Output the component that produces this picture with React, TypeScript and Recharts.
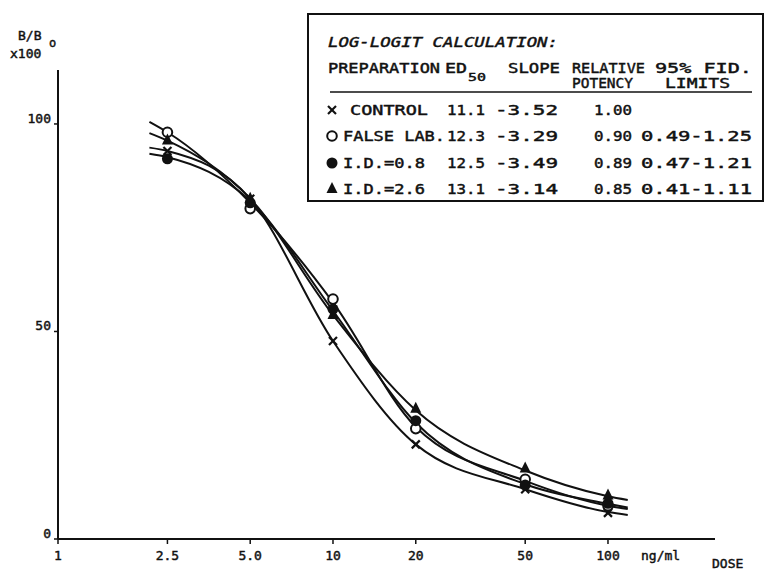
import { ComposedChart, Line, Scatter, XAxis, YAxis, Legend } from "recharts";

// doses (ng/ml) at which the points were measured
const DOSES = [2.5, 5, 10, 20, 50, 100];

// B/Bo x100, one array per preparation
const CONTROL = [93.5, 82, 47.7, 22.8, 12, 6.3];
const FALSE_LAB = [98, 79.6, 57.8, 26.6, 14.4, 8];
const ID_08 = [91.6, 81, 55.4, 28.5, 13, 8.6];
const ID_26 = [96, 82, 54, 31.4, 17, 10.5];

// where the drawn (fitted) curves pass
const CURVE_DOSES = [2.15, 2.5, 5, 10, 20, 50, 100, 118];
const CONTROL_CURVE = [94.3, 93.5, 82, 47.7, 22.8, 12, 6.5, 5.8];
const FALSE_LAB_CURVE = [100.5, 98, 81, 57, 27, 14, 8, 7.2];
const ID_08_CURVE = [92.8, 92, 81.5, 55, 28, 13.2, 8.5, 7.6];
const ID_26_CURVE = [97.8, 96, 82, 54, 31, 16.5, 10.3, 9.4];

const X_TICKS = [1, 2.5, 5, 10, 20, 50, 100];
const X_LABELS = ["1", "2.5", "5.0", "10", "20", "50", "100"];
const Y_TICKS = [0, 50, 100];

// legend table
const TABLE_NAMES = ["CONTROL", "FALSE LAB.", "I.D.=0.8", "I.D.=2.6"];
const TABLE_ED50 = ["11.1", "12.3", "12.5", "13.1"];
const TABLE_SLOPE = ["-3.52", "-3.29", "-3.49", "-3.14"];
const TABLE_POTENCY = ["1.00", "0.90", "0.89", "0.85"];
const TABLE_LIMITS = ["", "0.49-1.25", "0.47-1.21", "0.41-1.11"];

const INK = "#111";
const FONT = "'DejaVu Sans Mono', 'Liberation Mono', monospace";

const toPoints = (xs: number[], ys: number[]) => xs.map((d, i) => ({ dose: d, v: ys[i] }));

type Mark = "cross" | "open" | "filled" | "triangle";

function Marker({ kind, cx, cy }: { kind: Mark; cx: number; cy: number }) {
  if (kind === "cross")
    return (
      <g stroke={INK} strokeWidth={2.2}>
        <line x1={cx - 4} y1={cy - 4} x2={cx + 4} y2={cy + 4} />
        <line x1={cx - 4} y1={cy + 4} x2={cx + 4} y2={cy - 4} />
      </g>
    );
  if (kind === "open") return <circle cx={cx} cy={cy} r={4.8} fill="#fff" stroke={INK} strokeWidth={2} />;
  if (kind === "filled") return <circle cx={cx} cy={cy} r={5.5} fill={INK} />;
  return <path d={`M${cx},${cy - 7} L${cx + 5.5},${cy + 4} L${cx - 5.5},${cy + 4} Z`} fill={INK} />;
}

const shapeOf = (kind: Mark) => (p: any) => <Marker kind={kind} cx={p.cx} cy={p.cy} />;

const SERIES: { name: string; points: number[]; curve: number[]; mark: Mark }[] = [
  { name: "control", points: CONTROL, curve: CONTROL_CURVE, mark: "cross" },
  { name: "falseLab", points: FALSE_LAB, curve: FALSE_LAB_CURVE, mark: "open" },
  { name: "id08", points: ID_08, curve: ID_08_CURVE, mark: "filled" },
  { name: "id26", points: ID_26, curve: ID_26_CURVE, mark: "triangle" },
];

const MARKS: Mark[] = ["cross", "open", "filled", "triangle"];

// typewriter-ish text stretched to the width it has in the scan
function T({ x, y, w, children, italic, size = 14 }: any) {
  return (
    <text
      x={x}
      y={y + 5}
      textLength={w}
      lengthAdjust="spacingAndGlyphs"
      fontSize={size}
      fontStyle={italic ? "italic" : "normal"}
      fill={INK}
      stroke={INK}
      strokeWidth={0.45}
      fontFamily={FONT}
    >
      {children}
    </text>
  );
}

// box sits at left 307, top 13 of the page; coordinates below are page coords minus that
function TableLegend() {
  const L = 307;
  const TP = 13;
  const rowY = [110, 136, 163, 189];
  return (
    <svg width={457} height={190} style={{ display: "block" }}>
      <rect x={1} y={1} width={455} height={187} fill="#fff" stroke={INK} strokeWidth={2} />
      <T x={328 - L} y={42 - TP} w={230} italic>LOG-LOGIT CALCULATION:</T>
      <T x={328 - L} y={68 - TP} w={112}>PREPARATION</T>
      <T x={445 - L} y={68 - TP} w={22}>ED</T>
      <T x={468 - L} y={76 - TP} w={18} size={11}>50</T>
      <T x={508 - L} y={68 - TP} w={52}>SLOPE</T>
      <T x={572 - L} y={68 - TP} w={73}>RELATIVE</T>
      <T x={655 - L} y={68 - TP} w={97}>95% FID.</T>
      <T x={572 - L} y={83 - TP} w={61}>POTENCY</T>
      <T x={665 - L} y={83 - TP} w={65}>LIMITS</T>
      <line x1={330 - L} x2={752 - L} y1={92 - TP} y2={92 - TP} stroke={INK} strokeWidth={1.6} />
      {TABLE_NAMES.map((n, i) => {
        const y = rowY[i] - TP;
        return (
          <g key={n}>
            <Marker kind={MARKS[i]} cx={332 - L} cy={y} />
            <T x={(i === 0 ? 350 : 343) - L} y={y} w={i === 0 ? 78 : i === 1 ? 102 : 82}>{n}</T>
            <T x={447 - L} y={y} w={38}>{TABLE_ED50[i]}</T>
            <T x={495 - L} y={y} w={63}>{TABLE_SLOPE[i]}</T>
            <T x={594 - L} y={y} w={38}>{TABLE_POTENCY[i]}</T>
            {TABLE_LIMITS[i] && (
              <T x={641 - L} y={y} w={111}>{TABLE_LIMITS[i]}</T>
            )}
          </g>
        );
      })}
    </svg>
  );
}

function XTick(props: any) {
  const { x, payload } = props;
  const i = X_TICKS.indexOf(payload.value);
  return (
    <text x={x} y={560} textAnchor="middle" fontSize={13} fill={INK} stroke={INK} strokeWidth={0.45} fontFamily={FONT}>
      {X_LABELS[i]}
    </text>
  );
}

function YTick(props: any) {
  const { y, payload } = props;
  return (
    <text x={51} y={y - 1} textAnchor="end" fontSize={13} fill={INK} stroke={INK} strokeWidth={0.45} fontFamily={FONT}>
      {payload.value}
    </text>
  );
}

export default function App() {
  return (
    <div style={{ position: "absolute", left: 0, top: 0, width: 766, height: 572, background: "#fff" }}>
      <ComposedChart width={766} height={572} margin={{ top: 70, right: 51, bottom: 0, left: 0 }}>
        <XAxis
          type="number"
          dataKey="dose"
          scale="log"
          domain={[1, 245]}
          ticks={X_TICKS}
          interval={0}
          height={33}
          allowDataOverflow
          axisLine={{ stroke: INK, strokeWidth: 2 }}
          tickLine={{ stroke: INK, strokeWidth: 1.5 }}
          tickSize={5}
          tick={<XTick />}
          label={{
            content: () => (
              <g fill={INK} stroke={INK} strokeWidth={0.45} fontFamily={FONT} fontSize={13}>
                <text x={641} y={560}>ng/ml</text>
                <text x={712} y={568}>DOSE</text>
              </g>
            ),
          }}
        />
        <YAxis
          type="number"
          domain={[0, 113]}
          ticks={Y_TICKS}
          interval={0}
          width={58}
          allowDataOverflow
          axisLine={{ stroke: INK, strokeWidth: 2 }}
          tickLine={{ stroke: INK, strokeWidth: 1.5 }}
          tickSize={4}
          tick={<YTick />}
          label={{
            content: () => (
              <g fill={INK} stroke={INK} strokeWidth={0.45} fontFamily={FONT} fontSize={13}>
                <text x={18} y={40}>B/B</text>
                <text x={49} y={47} fontSize={12}>o</text>
                <text x={10} y={58}>x100</text>
              </g>
            ),
          }}
        />
        {SERIES.map((s) => (
          <Line
            key={s.name + "-curve"}
            data={toPoints(CURVE_DOSES, s.curve)}
            dataKey="v"
            type="monotone"
            stroke={INK}
            strokeWidth={2}
            dot={false}
            activeDot={false}
            isAnimationActive={false}
          />
        ))}
        {SERIES.map((s) => (
          <Scatter
            key={s.name + "-pts"}
            data={toPoints(DOSES, s.points)}
            dataKey="v"
            shape={shapeOf(s.mark)}
            isAnimationActive={false}
          />
        ))}
        <Legend
          layout="horizontal"
          verticalAlign="middle"
          align="center"
          wrapperStyle={{ left: 307, top: 13, width: 457, height: 190 }}
          content={() => <TableLegend />}
        />
      </ComposedChart>
    </div>
  );
}
